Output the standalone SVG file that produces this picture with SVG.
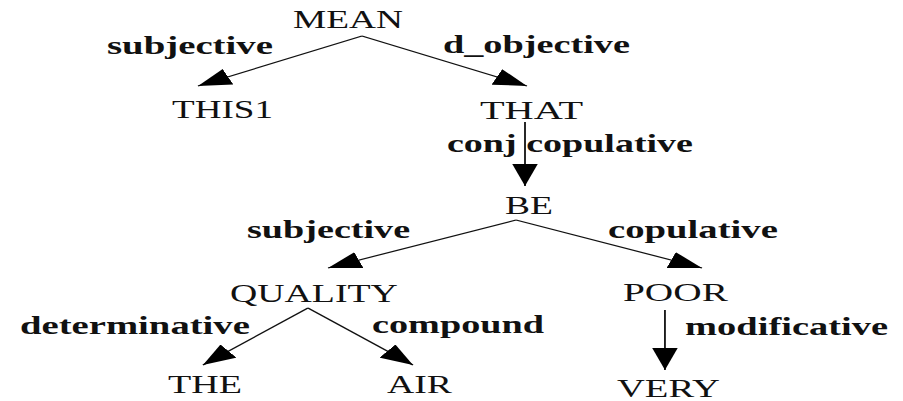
<svg xmlns="http://www.w3.org/2000/svg" width="903" height="401" viewBox="0 0 903 401">
  <style>
    text { font-family: 'Liberation Serif', 'DejaVu Serif', 'Times New Roman', serif; font-size: 25px; fill: #111; }
    .lbl { font-weight: bold; }
    .edge { fill: none; stroke: #111; stroke-width: 1.2; marker-end: url(#arrow); }
  </style>
  <defs>
    <marker id="arrow" markerUnits="userSpaceOnUse" viewBox="0 0 22 17" markerWidth="22" markerHeight="17" refX="22" refY="8.5" orient="auto">
      <path d="M0,0 L22,8.5 L0,17 z" fill="#000"/>
    </marker>
  </defs>
  <rect width="903" height="401" fill="#fff"/>
  <!-- the whole tree is laid out in a narrower space and widened by 1.5 -->
  <g transform="scale(1.5,1)" font-family="Liberation Serif, serif">
    <g id="edges">
      <path class="edge" d="M241.3,36 L132,86"/>
      <path class="edge" d="M241.3,36 L351.3,86"/>
      <path class="edge" d="M350,122 L350,186"/>
      <path class="edge" d="M344,220 L218.7,268"/>
      <path class="edge" d="M344,220 L468,268"/>
      <path class="edge" d="M205.3,308 L135.3,365"/>
      <path class="edge" d="M205.3,308 L275.3,365"/>
      <path class="edge" d="M443.3,310 L443.3,370"/>
    </g>
    <g id="edge-labels">
      <text class="lbl" x="71.3" y="54" textLength="110.7" lengthAdjust="spacingAndGlyphs">subjective</text>
      <text class="lbl" x="295.3" y="53" textLength="124.7" lengthAdjust="spacingAndGlyphs">d_objective</text>
      <text class="lbl" x="298" y="152" textLength="164" lengthAdjust="spacingAndGlyphs">conj copulative</text>
      <text class="lbl" x="164.7" y="238" textLength="108.7" lengthAdjust="spacingAndGlyphs">subjective</text>
      <text class="lbl" x="405.3" y="238" textLength="113.3" lengthAdjust="spacingAndGlyphs">copulative</text>
      <text class="lbl" x="13.3" y="334" textLength="153.3" lengthAdjust="spacingAndGlyphs">determinative</text>
      <text class="lbl" x="248" y="333" textLength="114.7" lengthAdjust="spacingAndGlyphs">compound</text>
      <text class="lbl" x="456.7" y="335" textLength="135.3" lengthAdjust="spacingAndGlyphs">modificative</text>
    </g>
    <g id="node-mean"><text x="195.3" y="28" textLength="73.3" lengthAdjust="spacingAndGlyphs">MEAN</text></g>
    <g id="node-this1"><text x="114.7" y="118" textLength="67.3" lengthAdjust="spacingAndGlyphs">THIS1</text></g>
    <g id="node-that"><text x="320" y="119" textLength="68.7" lengthAdjust="spacingAndGlyphs">THAT</text></g>
    <g id="node-be"><text x="336.7" y="214" textLength="32" lengthAdjust="spacingAndGlyphs">BE</text></g>
    <g id="node-quality"><text x="153.3" y="302" textLength="112" lengthAdjust="spacingAndGlyphs">QUALITY</text></g>
    <g id="node-poor"><text x="415.3" y="301" textLength="70" lengthAdjust="spacingAndGlyphs">POOR</text></g>
    <g id="node-the"><text x="112" y="393" textLength="49.3" lengthAdjust="spacingAndGlyphs">THE</text></g>
    <g id="node-air"><text x="258" y="393" textLength="43.3" lengthAdjust="spacingAndGlyphs">AIR</text></g>
    <g id="node-very"><text x="411.3" y="397" textLength="68.7" lengthAdjust="spacingAndGlyphs">VERY</text></g>
  </g>
</svg>
